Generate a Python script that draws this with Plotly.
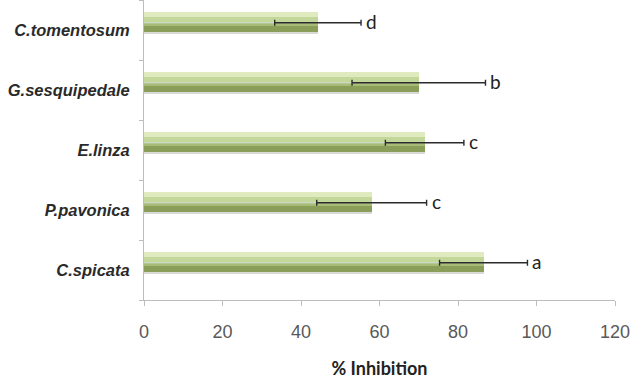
import plotly.graph_objects as go

species = ["C.spicata", "P.pavonica", "E.linza", "G.sesquipedale", "C.tomentosum"]
inhibition = [86.5, 58.0, 71.5, 70.0, 44.3]
errors = [11.2, 14.0, 10.0, 17.0, 11.0]
letters = ["a", "c", "c", "b", "d"]
x_ticks = [0, 20, 40, 60, 80, 100, 120]

fig = go.Figure()

# shadow + gradient-like bars built from strips
strips = [
    (-0.07, 0.05, "rgba(130,130,120,0.30)"),   # shadow
    (-0.03, 0.09, "#8a9e5a"),
    (0.06, 0.08, "#a7bd76"),
    (0.14, 0.08, "#c4d79a"),
    (0.22, 0.08, "#e0eabf"),
]
for off, w, col in strips:
    fig.add_trace(go.Bar(
        y=species, x=inhibition, orientation="h",
        offset=off, width=w,
        marker=dict(color=col, line=dict(width=0)),
        hoverinfo="skip", showlegend=False,
    ))

# error bars on an invisible bar centred on the visible bar
fig.add_trace(go.Bar(
    y=species, x=inhibition, orientation="h",
    offset=0.115, width=0.01,
    marker=dict(color="rgba(0,0,0,0)"),
    error_x=dict(type="data", array=errors, visible=True,
                 color="#2b2b2b", thickness=1.4, width=3),
    showlegend=False,
))

for s, v, e, l in zip(species, inhibition, errors, letters):
    fig.add_annotation(x=v + e, y=s, text=l, showarrow=False,
                       xanchor="left", xshift=3, yshift=9,
                       font=dict(family="Lato", size=19, color="#222"))

fig.update_layout(
    width=632, height=379,
    margin=dict(l=144, r=17, t=0, b=79),
    plot_bgcolor="white", paper_bgcolor="white",
    barmode="overlay", bargap=0,
)
fig.update_xaxes(
    range=[0, 120], tickvals=x_ticks, ticktext=[str(t) for t in x_ticks],
    showgrid=False, zeroline=False,
    showline=True, linecolor="#bdbdbd", linewidth=1,
    ticks="outside", ticklen=5, tickcolor="#bdbdbd",
    ticklabelstandoff=10,
    tickfont=dict(family="Liberation Sans", size=18, color="#595959"),
    title=dict(text="<b>% Inhibition</b>", standoff=25,
               font=dict(family="Lato", size=18, color="#222")),
)
fig.update_yaxes(
    type="category", categoryorder="array", categoryarray=species,
    range=[-0.5, 4.5],
    tickvals=species, ticktext=["<b><i>" + s + "</i></b>" for s in species],
    tickson="boundaries",
    showgrid=False, zeroline=False,
    showline=True, linecolor="#bdbdbd", linewidth=1,
    ticks="outside", ticklen=4, tickcolor="#bdbdbd",
    ticklabelstandoff=10,
    tickfont=dict(family="Liberation Sans", size=16.5, color="#2a2a2a"),
)

fig.write_html("out.html", config={"displayModeBar": False})
with open("out.html", encoding="utf-8") as f:
    html = f.read()
html = html.replace("<body>", '<body style="margin:0;padding:0;overflow:hidden">', 1)
with open("out.html", "w", encoding="utf-8") as f:
    f.write(html)
